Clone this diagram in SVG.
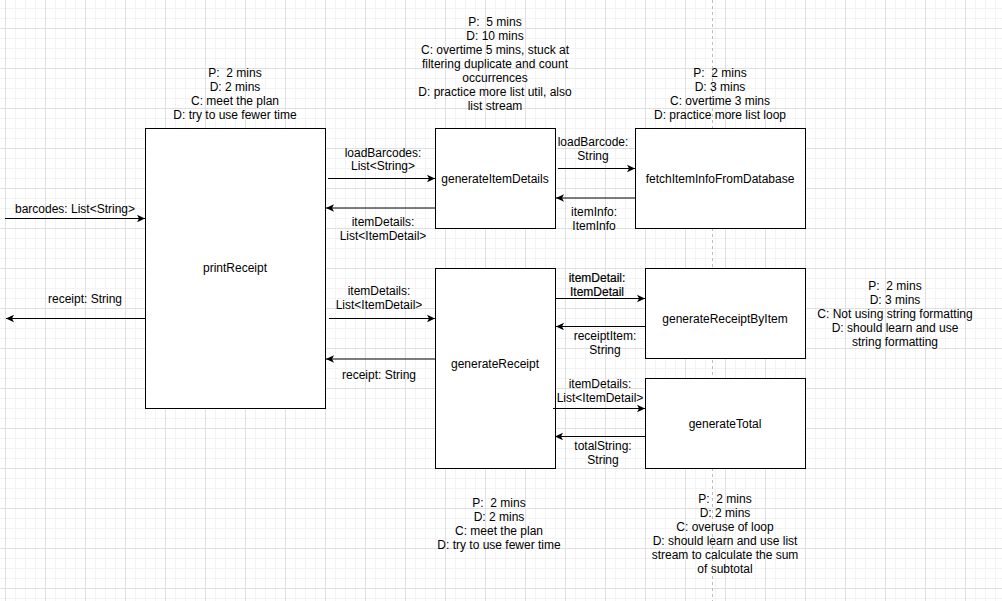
<svg xmlns="http://www.w3.org/2000/svg" width="1002" height="601" viewBox="0 0 1002 601">
<style>
text{font-family:"Liberation Sans",Arial,Helvetica,sans-serif;font-size:12px;fill:#000;text-anchor:middle;white-space:pre}
.box{fill:#fff;stroke:#000;stroke-width:1}
.edge{fill:none;stroke:#000;stroke-width:1;marker-end:url(#arr)}
.bold{stroke:#000;stroke-width:0.2}
</style>
<defs>
<pattern id="grid" x="5" y="28" width="40" height="40" patternUnits="userSpaceOnUse">
<path d="M10.5,0V40M20.5,0V40M30.5,0V40M0,10.5H40M0,20.5H40M0,30.5H40" stroke="#f3f3f3" stroke-width="1" fill="none"/>
<path d="M0.5,0V40M0,0.5H40" stroke="#e0e0e0" stroke-width="1" fill="none"/>
</pattern>
<marker id="arr" viewBox="0 0 10 10" refX="8" refY="5" markerWidth="10" markerHeight="10" markerUnits="userSpaceOnUse" orient="auto">
<path d="M0,1.2 L8,5 L0,8.8 L2,5 Z" fill="#000"/>
</marker>
</defs>
<rect width="1002" height="601" fill="#fff"/>
<rect width="1002" height="601" fill="url(#grid)"/>
<line x1="712.5" y1="0" x2="712.5" y2="601" stroke="#bdbdbd" stroke-width="1" stroke-dasharray="3,3"/>

<g id="printReceipt"><rect class="box" x="145.5" y="128.5" width="180" height="280"/><text x="235" y="272">printReceipt</text></g>
<g id="generateItemDetails"><rect class="box" x="435.5" y="128.5" width="120" height="100"/><text x="495" y="183">generateItemDetails</text></g>
<g id="fetchItemInfoFromDatabase"><rect class="box" x="635.5" y="128.5" width="170" height="100"/><text x="720" y="183">fetchItemInfoFromDatabase</text></g>
<g id="generateReceipt"><rect class="box" x="435.5" y="268.5" width="120" height="200"/><text x="495" y="368">generateReceipt</text></g>
<g id="generateReceiptByItem"><rect class="box" x="645.5" y="268.5" width="160" height="90"/><text x="725" y="323">generateReceiptByItem</text></g>
<g id="generateTotal"><rect class="box" x="645.5" y="378.5" width="160" height="90"/><text x="725" y="428">generateTotal</text></g>

<g id="connectors">
<path class="edge" d="M5,218.5H145"/>
<path class="edge" d="M145,318.5H6"/>
<path class="edge" d="M328,178.5H435"/>
<path class="edge" d="M435,208H326"/>
<path class="edge" d="M558,168.5H635"/>
<path class="edge" d="M635,198H556"/>
<path class="edge" d="M329,318.5H435"/>
<path class="edge" d="M435,359H326"/>
<path class="edge" d="M555,298.5H645"/>
<path class="edge" d="M645,326.5H556"/>
<path class="edge" d="M553,408.5H645"/>
<path class="edge" d="M645,436.5H555"/>
</g>

<g id="edge-labels">
<text x="75" y="213">barcodes: List&lt;String&gt;</text>
<text x="85" y="303">receipt: String</text>
<text x="383" y="156.5">loadBarcodes:</text><text x="383" y="170">List&lt;String&gt;</text>
<text x="383" y="225.5">itemDetails:</text><text x="383" y="239.5">List&lt;ItemDetail&gt;</text>
<text x="593" y="146">loadBarcode:</text><text x="593" y="160">String</text>
<text x="594" y="216">itemInfo:</text><text x="594" y="230">ItemInfo</text>
<text x="379" y="295">itemDetails:</text><text x="379" y="309">List&lt;ItemDetail&gt;</text>
<text x="379" y="379">receipt: String</text>
<text class="bold" x="597" y="282">itemDetail:</text><text class="bold" x="597" y="296">ItemDetail</text>
<text x="605" y="340">receiptItem:</text><text x="605" y="354">String</text>
<text x="600" y="387.5">itemDetails:</text><text x="600" y="401.5">List&lt;ItemDetail&gt;</text>
<text x="603" y="450">totalString:</text><text x="603" y="464">String</text>
</g>

<g id="notes">
<text x="235" y="77">P:  2 mins</text><text x="235" y="91">D: 2 mins</text><text x="235" y="105">C: meet the plan</text><text x="235" y="119">D: try to use fewer time</text>
<text x="495" y="26">P:  5 mins</text><text x="495" y="40">D: 10 mins</text><text x="495" y="54">C: overtime 5 mins, stuck at</text><text x="495" y="68">filtering duplicate and count</text><text x="495" y="82">occurrences</text><text x="495" y="96">D: practice more list util, also</text><text x="495" y="110">list stream</text>
<text x="720" y="77">P:  2 mins</text><text x="720" y="91">D: 3 mins</text><text x="720" y="105">C: overtime 3 mins</text><text x="720" y="119">D: practice more list loop</text>
<text x="895" y="290">P:  2 mins</text><text x="895" y="304">D: 3 mins</text><text x="895" y="318">C: Not using string formatting</text><text x="895" y="332">D: should learn and use</text><text x="895" y="346">string formatting</text>
<text x="499" y="507">P:  2 mins</text><text x="499" y="521">D: 2 mins</text><text x="499" y="535">C: meet the plan</text><text x="499" y="549">D: try to use fewer time</text>
<text x="725" y="503">P:  2 mins</text><text x="725" y="517">D: 2 mins</text><text x="725" y="531">C: overuse of loop</text><text x="725" y="545">D: should learn and use list</text><text x="725" y="559">stream to calculate the sum</text><text x="725" y="573">of subtotal</text>
</g>
</svg>
